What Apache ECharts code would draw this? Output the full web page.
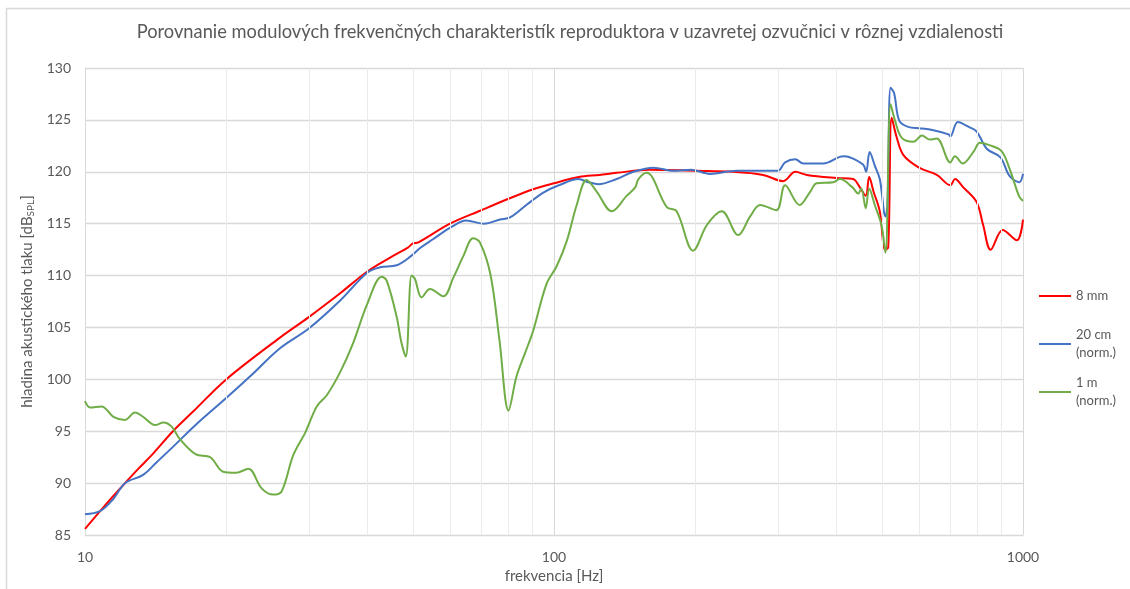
<!DOCTYPE html>
<html>
<head>
<meta charset="utf-8">
<script src="https://cdn.jsdelivr.net/npm/echarts@6/dist/echarts.min.js"></script>
<style>
html,body{margin:0;padding:0;background:#fff;}
#chart{width:1130px;height:589px;}
</style>
</head>
<body>
<div id="chart"></div>
<script>
// ---- data (frequency [Hz], level [dB SPL]) ----
const seriesNames = ['8 mm', '20 cm (norm.)', '1 m (norm.)'];
const seriesColors = ['#FF0000', '#4472C4', '#70AD47'];

const freqRed = [10,11,12,13,14,15.4,17,20,26,30,35,40,45,48.8,50,51.4,60,70,80,90,100,113,125,136,160,200,241,279,308,327,346,400,434,449,462,470,480,495,508,516,525,538,556,600,655,700,716,746,796,822,853,905,970,1000];
const levelRed = [85.6,87.8,89.7,91.4,92.9,95.0,96.9,100.0,104.0,106.0,108.3,110.4,111.8,112.7,113.1,113.2,115.0,116.3,117.4,118.3,118.9,119.5,119.7,119.9,120.2,120.1,120.0,119.7,119.1,120.0,119.7,119.4,119.3,118.5,117.7,119.5,118.1,116.2,112.5,112.7,125.2,123.3,121.6,120.4,119.7,118.7,119.3,118.5,117.1,114.9,112.5,114.4,113.4,115.4];

const freqBlue = [10,10.76,11.5,12.17,13.3,14.2,15.4,17.3,20,22.5,26.05,30,35,40,42.6,46.2,49.3,52,55.2,60,65,70.9,76.7,80.6,87.3,94.9,102.4,112.8,118.4,124.3,136,147.6,163,180,196,215,245,279,300,311,327,340,375,414,427,456,463,471,483,495,509,514,522,531,545,571,600,644,694,700,726,768,796,838,895,936,982,1000];
const levelBlue = [87.0,87.3,88.5,90.0,90.8,92.0,93.5,95.7,98.2,100.3,103.0,104.9,107.6,110.3,110.8,111.0,111.8,112.7,113.5,114.6,115.3,115.0,115.4,115.6,116.8,118.0,118.7,119.3,119.0,118.8,119.3,120.0,120.4,120.1,120.2,119.8,120.1,120.1,120.1,120.9,121.2,120.8,120.8,121.5,121.4,120.7,120.0,121.9,120.6,119.3,115.7,116.8,128.1,127.6,124.9,124.3,124.2,124.0,123.6,123.4,124.8,124.3,123.9,122.2,121.4,119.6,119.0,119.8];

const freqGreen = [10,10.25,10.85,11.5,12.17,12.78,13.3,14.1,14.7,15.3,15.9,17.2,18.5,19.7,21,22.3,23.8,25.2,26.25,27.8,29.5,31.2,32.8,35,37.3,40,42.9,44,46.2,47.3,48.3,49.7,50.5,52.2,54.4,58.1,61,64.1,67.2,69.5,73.2,76.5,80,83.2,86.7,90.3,96.4,101.3,106.4,111.8,117.4,123.3,132.8,143,149,151.4,157.6,174,182.6,198,212,228,247,262,275,298,311,334,352,363,394,407,433,445,452,462,470,483,499,509,522,533,551,584,609,633,655,700,716,744,786,809,845,900,936,982,1000];
const levelGreen = [97.9,97.3,97.4,96.4,96.1,96.8,96.4,95.6,95.85,95.45,94.3,92.8,92.5,91.1,91.0,91.4,89.5,88.9,89.2,92.7,94.9,97.4,98.5,100.7,103.5,107.3,109.9,109.5,106.0,103.5,102.2,110.0,109.7,107.9,108.7,108.0,109.8,111.9,113.6,113.2,110.1,103.8,97.0,100.3,102.5,104.7,109.2,110.9,113.3,116.8,119.2,118.1,116.2,117.7,118.5,119.3,119.9,116.6,116.2,112.4,114.9,116.2,113.9,115.7,116.8,116.3,118.7,116.8,118.1,118.9,119.0,119.3,118.5,117.9,118.4,116.5,118.4,116.8,114.9,112.2,126.5,125.0,123.3,122.9,123.5,123.1,123.2,120.9,121.5,120.8,122.0,122.8,122.6,122.0,120.3,117.6,117.2];

const minorFreqLines = [20,30,40,50,60,70,80,90,200,300,400,500,600,700,800,900];

const titleText = 'Porovnanie modulových frekvenčných charakteristík reproduktora v uzavretej ozvučnici v rôznej vzdialenosti';
const xAxisName = 'frekvencia [Hz]';

// ---- build ----
function pairs(xs, ys){ return xs.map((x,i)=>[x, ys[i]]); }
const allData = [pairs(freqRed, levelRed), pairs(freqBlue, levelBlue), pairs(freqGreen, levelGreen)];

const FONT = 'Lato';
const TXT = '#595959';
const GRID = '#d9d9d9';

const chart = echarts.init(document.getElementById('chart'), null, {renderer:'canvas', width:1130, height:589});

const series = [{
  type:'line', name:'_minor', data:[], silent:true, z:1,
  markLine:{
    silent:true, symbol:['none','none'], animation:false,
    label:{show:false},
    lineStyle:{color:'#ebebeb', width:1, type:'solid'},
    emphasis:{disabled:true},
    data: minorFreqLines.map(v=>({xAxis:v}))
  }
}];
seriesNames.forEach((n,i)=>{
  series.push({
    type:'line', name:n, data:allData[i], showSymbol:false, symbol:'none',
    smooth:0.35, z:3+i,
    lineStyle:{color:seriesColors[i], width:2},
    itemStyle:{color:seriesColors[i]}
  });
});

const legendBase = {
  orient:'vertical', left:1039, padding:0, icon:'rect', itemWidth:32, itemHeight:2,
  selectedMode:false,
  textStyle:{color:TXT, fontFamily:FONT, fontSize:13, lineHeight:18}
};

chart.setOption({
  animation:false,
  backgroundColor:'#ffffff',
  title:{
    text:titleText, left:570, textAlign:'center', top:23, padding:0,
    textStyle:{color:TXT, fontFamily:FONT, fontSize:18.3, fontWeight:'normal'}
  },
  legend:[
    Object.assign({}, legendBase, {top:287, data:[seriesNames[0]]}),
    Object.assign({}, legendBase, {top:317, data:[seriesNames[1]],
      formatter:n=>n.replace(' (','\n('),
      textStyle:Object.assign({}, legendBase.textStyle, {padding:[18,0,0,0]})}),
    Object.assign({}, legendBase, {top:365, data:[seriesNames[2]],
      formatter:n=>n.replace(' (','\n('),
      textStyle:Object.assign({}, legendBase.textStyle, {padding:[18,0,0,0]})})
  ],
  graphic:[{
    type:'rect', silent:true, z:-10,
    shape:{x:6.5, y:8.5, width:1200, height:700},
    style:{fill:'none', stroke:GRID, lineWidth:1.5}
  }],
  grid:{left:85, top:68, width:938, height:473, containLabel:false},
  xAxis:{
    type:'log', logBase:10, min:10, max:1000,
    name:xAxisName, nameLocation:'middle', nameGap:31,
    nameTextStyle:{color:TXT, fontFamily:FONT, fontSize:15},
    axisLine:{show:true, lineStyle:{color:GRID, width:1}},
    axisTick:{show:false},
    axisLabel:{color:TXT, fontFamily:FONT, fontSize:14, margin:15, formatter:v=>String(v)},
    splitLine:{show:true, lineStyle:{color:GRID, width:1}},
    minorTick:{show:false}, minorSplitLine:{show:false}
  },
  yAxis:{
    type:'value', min:85, max:130, interval:5,
    name:'{a|hladina akustického tlaku [dB}{s|SPL}{a|]}',
    nameLocation:'middle', nameGap:41, nameRotate:90,
    nameTextStyle:{color:TXT, fontFamily:FONT, fontSize:15,
      rich:{
        a:{color:TXT, fontFamily:FONT, fontSize:15},
        s:{color:TXT, fontFamily:FONT, fontSize:10, padding:[7,0,0,0]}
      }},
    axisLine:{show:true, lineStyle:{color:GRID, width:1}},
    axisTick:{show:false},
    axisLabel:{color:TXT, fontFamily:FONT, fontSize:14, margin:14},
    splitLine:{show:true, lineStyle:{color:GRID, width:1.3}}
  },
  series:series
});
</script>
</body>
</html>
